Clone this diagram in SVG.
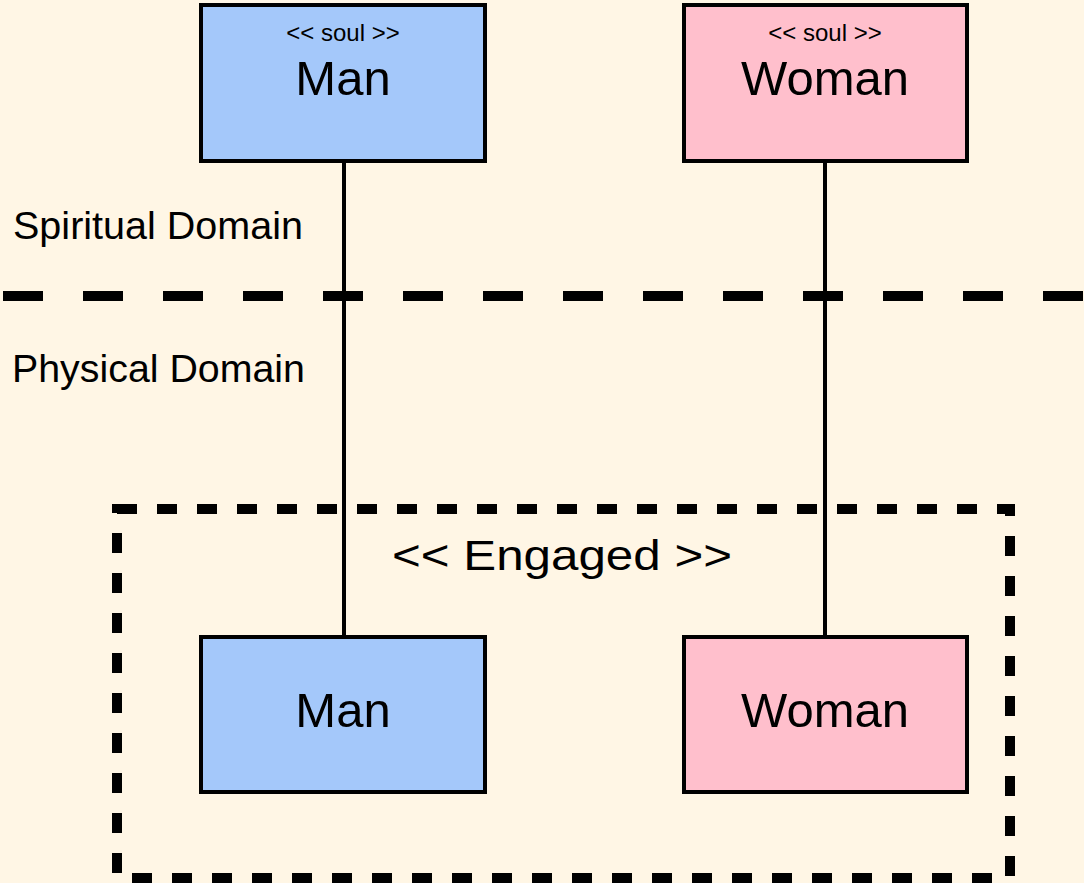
<svg xmlns="http://www.w3.org/2000/svg" width="1084" height="883" viewBox="0 0 1084 883">
<style>
.box{stroke:#000;stroke-width:4}
.man{fill:#a4c8fa}
.woman{fill:#ffbfcc}
text{font-family:"Liberation Sans",Arial,sans-serif;fill:#000}
.big{font-size:49px;text-anchor:middle}
.small{font-size:24px;text-anchor:middle}
.lbl{font-size:38px}
.conn{stroke:#000;stroke-width:4;fill:none}
</style>
<rect x="0" y="0" width="1084" height="883" fill="#fff6e5"/>
<g id="domain-divider">
<line x1="3" y1="296" x2="1084" y2="296" stroke="#000" stroke-width="10" stroke-dasharray="40 40"/>
</g>
<text class="lbl" x="13" y="239" textLength="290" lengthAdjust="spacingAndGlyphs">Spiritual Domain</text>
<text class="lbl" x="12" y="382" textLength="293" lengthAdjust="spacingAndGlyphs">Physical Domain</text>
<g id="connectors">
<line class="conn" x1="344" y1="161" x2="344" y2="637"/>
<line class="conn" x1="825" y1="161" x2="825" y2="637"/>
</g>
<g id="engaged">
<rect x="117" y="509" width="893" height="369" fill="none" stroke="#000" stroke-width="10" stroke-dasharray="20 20"/>
<text x="562" y="570" font-size="43" text-anchor="middle" textLength="340" lengthAdjust="spacingAndGlyphs">&lt;&lt; Engaged &gt;&gt;</text>
</g>
<g id="soul-man">
<rect class="box man" x="201" y="5" width="284" height="156"/>
<text class="small" x="343" y="41">&lt;&lt; soul &gt;&gt;</text>
<text class="big" x="343" y="95">Man</text>
</g>
<g id="soul-woman">
<rect class="box woman" x="684" y="5" width="283" height="156"/>
<text class="small" x="825" y="41">&lt;&lt; soul &gt;&gt;</text>
<text class="big" x="825" y="95">Woman</text>
</g>
<g id="body-man">
<rect class="box man" x="201" y="637" width="284" height="155"/>
<text class="big" x="343" y="727">Man</text>
</g>
<g id="body-woman">
<rect class="box woman" x="684" y="637" width="283" height="155"/>
<text class="big" x="825" y="727">Woman</text>
</g>
</svg>
